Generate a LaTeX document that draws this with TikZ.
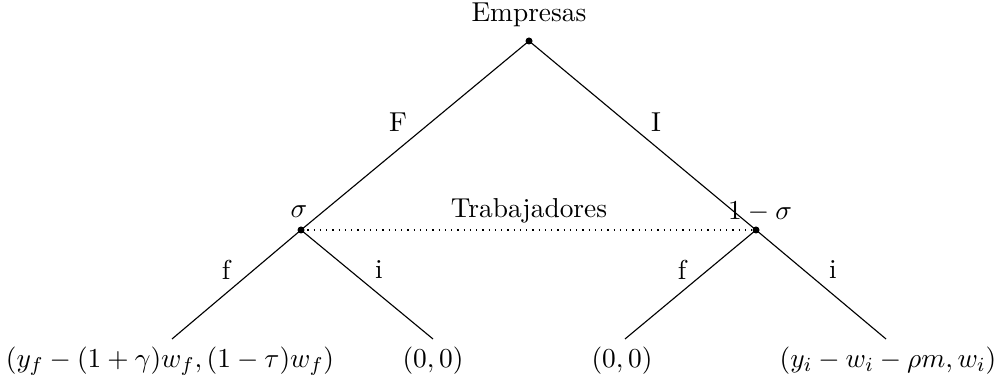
\documentclass[tikz,border=0pt]{standalone}
\begin{document}
\begin{tikzpicture}[x=0.4pt,y=-0.4pt,
  dotnode/.style={circle,fill=black,inner sep=0pt,minimum size=2.8pt},
  edge/.style={line width=0.45pt},
  lbl/.style={inner sep=0pt,anchor=center,font=\fontsize{10.95}{13}\selectfont}]
\useasboundingbox (0,0) rectangle (999,390);
\node[dotnode] (root) at (529,41) {};
\node[dotnode] (L) at (301,230) {};
\node[dotnode] (R) at (756,230) {};
\coordinate (LL) at (172,339);
\coordinate (LR) at (433,339);
\coordinate (RL) at (625,339);
\coordinate (RR) at (886,339);
\draw[edge] (root.center) -- (L.center);
\draw[edge] (root.center) -- (R.center);
\draw[edge] (L.center) -- (LL);
\draw[edge] (L.center) -- (LR);
\draw[edge] (R.center) -- (RL);
\draw[edge] (R.center) -- (RR);
\draw[dotted,line width=0.5pt] (L.center) -- (R.center);
\node[lbl] (emp) at (529,15) {Empresas};
\node[lbl] (F) at (398,122) {F};
\node[lbl] (I) at (656,122) {I};
\node[lbl] (sig) at (299,212) {$\sigma$};
\node[lbl] (osig) at (760,212) {$1-\sigma$};
\node[lbl] (trab) at (529,211) {Trabajadores};
\node[lbl] (f1) at (226,270) {f};
\node[lbl] (i1) at (379,270) {i};
\node[lbl] (f2) at (682,270) {f};
\node[lbl] (i2) at (833,270) {i};
\node[lbl] (p1) at (170,361) {$(y_f-(1+\gamma)w_f,(1-\tau)w_f)$};
\node[lbl] (p2) at (433,361) {$(0,0)$};
\node[lbl] (p3) at (622,361) {$(0,0)$};
\node[lbl] (p4) at (888,361) {$(y_i-w_i-\rho m,w_i)$};
\end{tikzpicture}
\end{document}
